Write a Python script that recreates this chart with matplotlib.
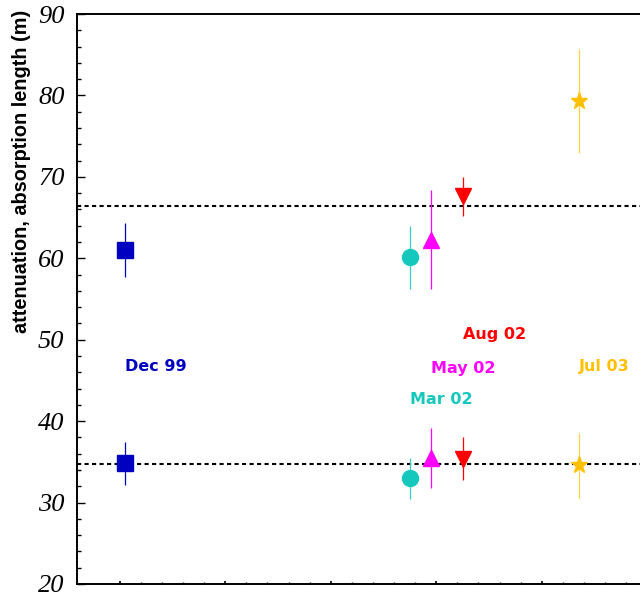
import matplotlib
matplotlib.use("Agg")
import matplotlib.pyplot as plt
import numpy as np

# Data: months since Dec 1999
labels = ["Dec 99", "Mar 02", "May 02", "Aug 02", "Jul 03"]
months = [0, 27, 29, 32, 43]
atten = [61.0, 60.1, 62.3, 67.6, 79.3]
atten_err = [3.3, 3.85, 6.1, 2.4, 6.4]
absorp = [34.8, 33.0, 35.5, 35.4, 34.6]
absorp_err = [2.6, 2.5, 3.65, 2.6, 4.0]
ref_lines = [66.4, 34.7]
label_y = [46.65, 42.6, 46.5, 50.6, 46.65]

markers = ["s", "o", "^", "v", "*"]
msizes = [12, 11.5, 11.5, 11.5, 12.5]
colors = ["#0000c0", "#14c8bc", "#ff00ff", "#ff0000", "#ffc000"]
ecolors = ["#0000c0", "#30d0c8", "#ff00ff", "#ff0000", "#ffd24d"]
tcolors = ["#0000c0", "#14c8bc", "#ff00ff", "#ff0000", "#ffc000"]

fig = plt.figure(figsize=(6.4, 5.96), dpi=100)
ax = fig.add_axes([77/640, 12/596, 1 - 77/640, (584-14)/596])

for y in ref_lines:
    ax.axhline(y, color="black", lw=1.5, ls=(0, (2, 1.6)), zorder=1)

for i in range(len(months)):
    for vals, errs in ((atten, atten_err), (absorp, absorp_err)):
        ax.errorbar(months[i], vals[i], yerr=errs[i], fmt=markers[i], ms=msizes[i],
                    color=colors[i], mec=colors[i], ecolor=ecolors[i],
                    elinewidth=0.9, capsize=0, zorder=3)
    ax.text(months[i], label_y[i], labels[i], color=tcolors[i], fontsize=11.5,
            fontweight="bold", ha="left", va="center", family="DejaVu Sans")

ax.set_xlim(-4.55, 48.81)
ax.set_ylim(20, 90)

ax.set_xticks(np.arange(-0.5, 49, 10))
ax.set_xticks(np.arange(-0.5, 49, 2), minor=True)
ax.set_yticks(np.arange(20, 91, 10))
ax.set_yticks(np.arange(20, 91, 2), minor=True)
ax.set_xticklabels([])
ax.set_yticklabels([str(v) for v in range(20, 91, 10)],
                   family="Liberation Serif", style="italic", fontsize=19)

ax.tick_params(axis="y", which="major", direction="in", length=5.8, width=1, pad=9)
ax.tick_params(axis="y", which="minor", direction="in", length=2.9, width=1)
ax.tick_params(axis="x", which="major", direction="in", length=2.4, width=1.2)
ax.tick_params(axis="x", which="minor", direction="in", length=1.2, width=1)

for s in ("left", "bottom", "top"):
    ax.spines[s].set_linewidth(1.4)
ax.spines["right"].set_visible(False)

fig.text(22/640, 1 - 10/596, "attenuation, absorption length (m)", rotation=90,
         ha="center", va="top", fontsize=14.3, fontweight="bold",
         family="Liberation Sans")

fig.savefig("out.png", dpi=100)
